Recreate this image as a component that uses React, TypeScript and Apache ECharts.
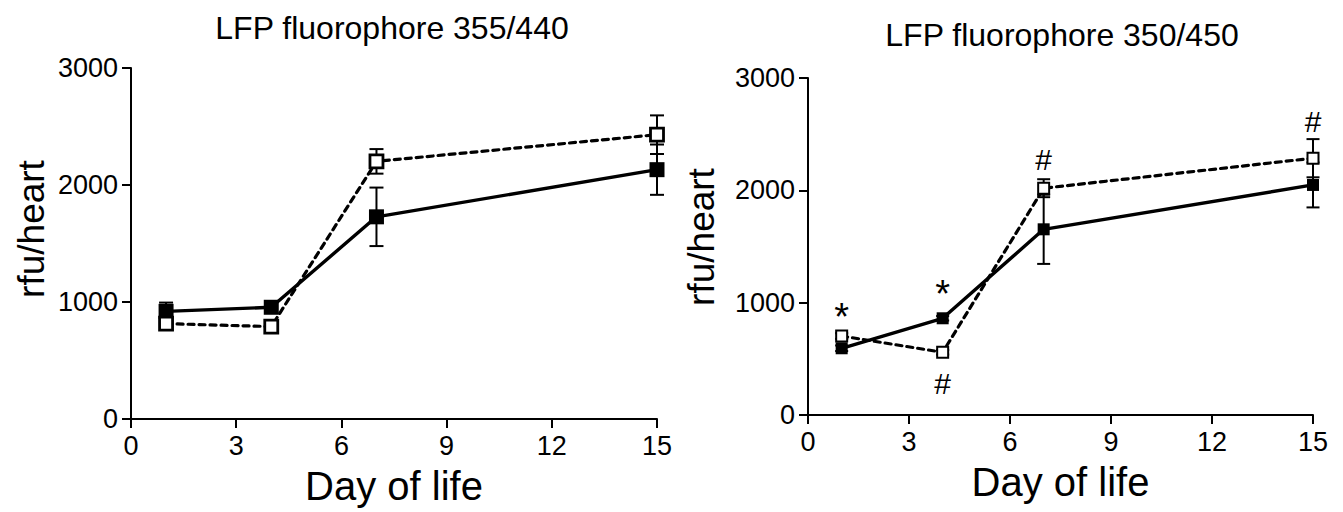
import React, { useEffect, useRef } from "react";
import * as echarts from "echarts";

const days = [1, 4, 7, 15];
const xTicks = [0, 3, 6, 9, 12, 15];
const yTicks = [0, 1000, 2000, 3000];

const titles = ["LFP fluorophore 355/440", "LFP fluorophore 350/450"];
const xName = "Day of life";
const yName = "rfu/heart";

// Left panel (355/440)
const leftSolidMean = [920, 955, 1728, 2131];
const leftSolidErr = [75, 45, 250, 215];
const leftOpenMean = [815, 790, 2202, 2430];
const leftOpenErr = [30, 25, 105, 165];

// Right panel (350/450)
const rightSolidMean = [594, 861, 1653, 2048];
const rightSolidErr = [25, 20, 308, 200];
const rightOpenMean = [703, 558, 2019, 2286];
const rightOpenErr = [25, 20, 80, 170];

const rightMarkX = [1, 4, 4, 7, 15];
const rightMarkY = [950, 1158, 282, 2271, 2612];
const rightMarkText = ["*", "*", "#", "#", "#"];

const FONT = "'Liberation Sans', Arial, sans-serif";

function errData(mean: number[], err: number[]) {
  return days.map((d, i) => [d, mean[i] - err[i], mean[i] + err[i]]);
}

function pts(mean: number[]) {
  return days.map((d, i) => [d, mean[i]]);
}

export default function App() {
  const ref = useRef<HTMLDivElement>(null);
  useEffect(() => {
    if (!ref.current) return;
    const chart = echarts.init(ref.current, undefined, { renderer: "svg" });

    const grids = [
      { left: 131, right: 1343 - 657, top: 68, bottom: 512 - 419 },
      { left: 808, right: 1343 - 1313, top: 78, bottom: 512 - 415 },
    ];
    const capHalf = [7, 6.5];
    const symSolid = [15, 12];
    const symOpen = [13, 11];

    const axisLine = { show: true, lineStyle: { color: "#000", width: 2 } };
    const axisTick = { show: true, length: 9, lineStyle: { color: "#000", width: 2 } };

    const xAxis = grids.map((_, i) => ({
      gridIndex: i,
      type: "value",
      min: 0,
      max: 15,
      interval: 3,
      name: xName,
      nameLocation: "middle",
      nameGap: 47,
      nameTextStyle: { fontSize: 40, color: "#000", fontFamily: FONT },
      axisLine,
      axisTick,
      splitLine: { show: false },
      axisLabel: {
        fontSize: 27,
        color: "#000",
        fontFamily: FONT,
        margin: 13,
        formatter: (v: number) => (xTicks.includes(v) ? String(v) : ""),
      },
    }));
    const yAxis = grids.map((_, i) => ({
      gridIndex: i,
      type: "value",
      min: 0,
      max: 3000,
      interval: 1000,
      axisLine,
      axisTick,
      splitLine: { show: false },
      axisLabel: {
        fontSize: 27,
        color: "#000",
        fontFamily: FONT,
        margin: 13,
        formatter: (v: number) => (yTicks.includes(v) ? String(v) : ""),
      },
    }));

    const makeErr = (idx: number, data: number[][]) => ({
      type: "custom",
      xAxisIndex: idx,
      yAxisIndex: idx,
      z: 1,
      data,
      encode: { x: 0, y: [1, 2] },
      renderItem: (params: any, api: any) => {
        const x = api.value(0);
        const lo = api.coord([x, api.value(1)]);
        const hi = api.coord([x, api.value(2)]);
        const w = capHalf[idx];
        const st = { stroke: "#000", lineWidth: 2 };
        return {
          type: "group",
          children: [
            { type: "line", shape: { x1: lo[0], y1: lo[1], x2: hi[0], y2: hi[1] }, style: st },
            { type: "line", shape: { x1: lo[0] - w, y1: lo[1], x2: lo[0] + w, y2: lo[1] }, style: st },
            { type: "line", shape: { x1: hi[0] - w, y1: hi[1], x2: hi[0] + w, y2: hi[1] }, style: st },
          ],
        };
      },
    });

    const makeSolid = (idx: number, mean: number[]) => ({
      type: "line",
      xAxisIndex: idx,
      yAxisIndex: idx,
      z: 3,
      data: pts(mean),
      symbol: "rect",
      symbolSize: symSolid[idx],
      showAllSymbol: true,
      lineStyle: { color: "#000", width: 3.4 },
      itemStyle: { color: "#000", borderColor: "#000", borderWidth: 0 },
    });
    const makeOpen = (idx: number, mean: number[]) => ({
      type: "line",
      xAxisIndex: idx,
      yAxisIndex: idx,
      z: 4,
      data: pts(mean),
      symbol: "rect",
      symbolSize: symOpen[idx],
      showAllSymbol: true,
      lineStyle: { color: "#000", width: 3.2, type: [6, 5], cap: "round" },
      itemStyle: { color: "#fff", borderColor: "#000", borderWidth: idx === 0 ? 2.8 : 2 },
    });

    const option: any = {
      animation: false,
      backgroundColor: "#fff",
      grid: grids,
      xAxis,
      yAxis,
      graphic: [
        {
          type: "text",
          x: 392,
          y: 28,
          style: { text: titles[0], fontSize: 32, fontFamily: FONT, fill: "#000", align: "center", verticalAlign: "middle" },
        },
        {
          type: "text",
          x: 1062,
          y: 35,
          style: { text: titles[1], fontSize: 32, fontFamily: FONT, fill: "#000", align: "center", verticalAlign: "middle" },
        },
        {
          type: "text",
          x: 31,
          y: 229,
          rotation: Math.PI / 2,
          style: { text: yName, fontSize: 37, fontFamily: FONT, fill: "#000", align: "center", verticalAlign: "middle" },
        },
        {
          type: "text",
          x: 701,
          y: 237,
          rotation: Math.PI / 2,
          style: { text: yName, fontSize: 37, fontFamily: FONT, fill: "#000", align: "center", verticalAlign: "middle" },
        },
      ],
      series: [
        makeErr(0, errData(leftSolidMean, leftSolidErr)),
        makeErr(0, errData(leftOpenMean, leftOpenErr)),
        makeSolid(0, leftSolidMean),
        makeOpen(0, leftOpenMean),
        makeErr(1, errData(rightSolidMean, rightSolidErr)),
        makeErr(1, errData(rightOpenMean, rightOpenErr)),
        makeSolid(1, rightSolidMean),
        makeOpen(1, rightOpenMean),
        {
          type: "custom",
          xAxisIndex: 1,
          yAxisIndex: 1,
          z: 5,
          data: rightMarkX.map((x, i) => [x, rightMarkY[i], i]),
          encode: { x: 0, y: 1 },
          renderItem: (params: any, api: any) => {
            const p = api.coord([api.value(0), api.value(1)]);
            const t = rightMarkText[api.value(2)];
            const star = t === "*";
            return {
              type: "text",
              x: p[0],
              y: p[1] + (star ? 9 : 0),
              style: {
                text: t,
                fontSize: star ? 38 : 30,
                fontFamily: FONT,
                fill: "#000",
                align: "center",
                verticalAlign: "middle",
              },
            };
          },
        },
      ],
    };
    chart.setOption(option);
    return () => chart.dispose();
  }, []);
  return (
    <div
      ref={ref}
      style={{ position: "absolute", left: 0, top: 0, width: 1343, height: 512, background: "#fff" }}
    />
  );
}
